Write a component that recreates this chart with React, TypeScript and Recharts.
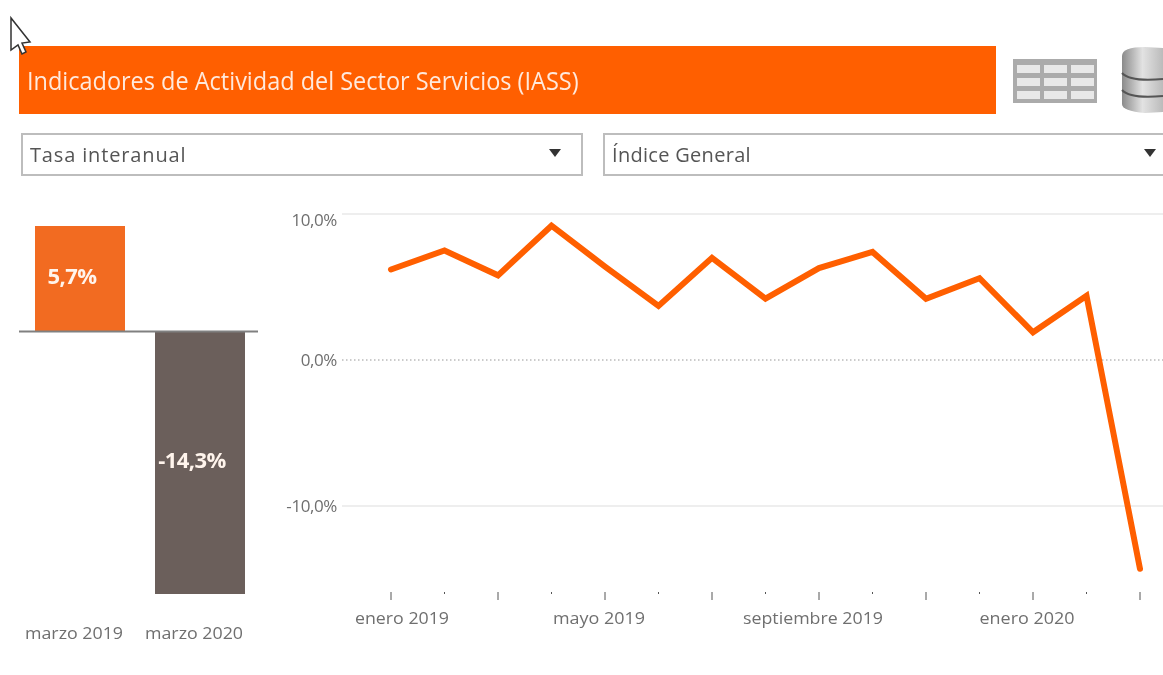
import React from "react";
import { BarChart, Bar, LineChart, Line, XAxis, YAxis, ReferenceLine, LabelList, Cell } from "recharts";

const barCategories = ["marzo 2019", "marzo 2020"];
const barValues = [5.7, -14.3];
const barColors = ["#F26B21", "#6B5F5B"];
const months = ["enero 2019","febrero 2019","marzo 2019","abril 2019","mayo 2019","junio 2019","julio 2019","agosto 2019","septiembre 2019","octubre 2019","noviembre 2019","diciembre 2019","enero 2020","febrero 2020","marzo 2020"];
const rates = [6.2, 7.5, 5.8, 9.2, 6.4, 3.7, 7.0, 4.2, 6.3, 7.4, 4.2, 5.6, 1.9, 4.4, -14.3];
const yTicks = [-10, 0, 10];
const title = "Indicadores de Actividad del Sector Servicios (IASS)";
const selectA = "Tasa interanual";
const selectB = "Índice General";

const barData = barCategories.map((name, i) => ({ name, value: barValues[i] }));
const lineData = months.map((month, i) => ({ month, rate: rates[i] }));
const FONT = "'Open Sans', sans-serif";
const fmt = (v: number) => v.toFixed(1).replace(".", ",") + "%";

const BarTick = ({ x, payload }: any) => (
  <text x={x - 6} y={634.5} textAnchor="middle" dominantBaseline="middle" fontFamily={FONT} fontSize={17} fill="#6F6F6F" textLength={98} lengthAdjust="spacingAndGlyphs">{payload.value}</text>
);
const YTick = ({ y, payload }: any) => (
  <text x={337} y={(payload.value === 10 ? y + 6 : y) + 1.5} textAnchor="end" dominantBaseline="middle" fontFamily={FONT} fontSize={17} fill="#6F6F6F" letterSpacing={-0.4}>{fmt(payload.value)}</text>
);
const XTick = ({ x, payload, index }: any) => {
  const major = index % 2 === 0;
  const labelled = index % 4 === 0;
  const dx = index === 0 ? 11 : -6;
  const widths: Record<number, number> = { 0: 94, 4: 92, 8: 140, 12: 95 };
  return (
    <g>
      <line x1={x} x2={x} y1={592} y2={major ? 600 : 594} stroke="#555" strokeWidth={1} />
      {labelled && (
        <text x={x + dx} y={619} textAnchor="middle" dominantBaseline="middle" fontFamily={FONT} fontSize={17} fill="#6F6F6F" textLength={widths[index]} lengthAdjust="spacingAndGlyphs">{payload.value}</text>
      )}
    </g>
  );
};

const BarLabel = ({ x, y, width, height, value }: any) => (
  <text x={x + width / 2 - 8} y={y + height / 2} textAnchor="middle" dominantBaseline="middle" fontFamily={FONT} fontWeight={700} fontSize={22} letterSpacing={-0.6} fill="#FFF4EC">{fmt(Number(value))}</text>
);

const BaseLine = ({ y1 }: any) => <line x1={19} x2={258} y1={y1 + 0.5} y2={y1 + 0.5} stroke="#808080" strokeWidth={2} />;

const Select = ({ left, width, text, spacing }: any) => (
  <div style={{ position: "absolute", left, top: 133, width, height: 43, boxSizing: "border-box", border: "2px solid #BDBDBD", background: "#fff", fontFamily: FONT, fontSize: 20, color: "#555", lineHeight: "40px", paddingLeft: 7, whiteSpace: "nowrap", letterSpacing: spacing }}>
    {text}
    <div style={{ position: "absolute", right: 20, top: 14, width: 0, height: 0, borderLeft: "6px solid transparent", borderRight: "6px solid transparent", borderTop: "8px solid #333" }} />
  </div>
);

const Icons = () => (
  <svg width={1163} height={675} style={{ position: "absolute", left: 0, top: 0, pointerEvents: "none" }}>
    <defs>
      <linearGradient id="db" x1="0" x2="1" y1="0" y2="0">
        <stop offset="0" stopColor="#8A8A8A" />
        <stop offset="0.5" stopColor="#E2E2E2" />
        <stop offset="1" stopColor="#BBB" />
      </linearGradient>
    </defs>
    <rect x={1013} y={59} width={84} height={44} fill="#ABABAB" />
    {[0, 1, 2].map((r) =>
      [0, 1, 2].map((c) => (
        <rect key={`${r}${c}`} x={1017 + c * 27} y={65 + r * 13} width={23} height={8} fill="#E8E8E8" />
      ))
    )}
    <path d="M1122 56 Q1122 47 1145 47 L1163 48 V112 L1145 113 Q1122 111 1122 104 Z" fill="url(#db)" />
    <path d="M1122 73 Q1130 82 1163 79 M1122 90 Q1130 99 1163 96" stroke="#555" strokeWidth={2} fill="none" />
    <path d="M11 18 L11 50 L18 45 L22 54 L26 52 L22 43 L30 42 Z" fill="#fff" stroke="#333" strokeWidth={1.5} />
  </svg>
);

export default function App() {
  return (
    <div style={{ position: "absolute", left: 0, top: 0, width: 1163, height: 675, overflow: "hidden", background: "#fff", filter: "blur(0.5px)" }}>
      <div style={{ position: "absolute", left: 19, top: 46, width: 977, height: 68, background: "#FF5F00", color: "#FFE9DC", fontFamily: FONT, fontSize: 26, lineHeight: "68px", paddingLeft: 8, boxSizing: "border-box", whiteSpace: "nowrap" }}>
        <span style={{ display: "inline-block", transform: "scaleX(0.903)", transformOrigin: "left center" }}>{title}</span>
      </div>
      <Select left={21} width={562} text={selectA} spacing={0.85} />
      <Select left={603} width={575} text={selectB} spacing={0.3} />
      <div style={{ position: "absolute", left: 0, top: 0 }}>
        <BarChart width={280} height={675} data={barData} margin={{ top: 226, right: 20, bottom: 41, left: 20 }} barSize={90}>
          <XAxis dataKey="name" axisLine={false} tickLine={false} tick={<BarTick />} interval={0} height={40} />
          <YAxis hide domain={[-14.3, 5.7]} />
          <Bar dataKey="value" isAnimationActive={false}>
            {barData.map((d, i) => <Cell key={d.name} fill={barColors[i]} />)}
            <LabelList dataKey="value" content={<BarLabel />} />
          </Bar>
          <ReferenceLine y={0} shape={<BaseLine />} />
        </BarChart>
      </div>
      <div style={{ position: "absolute", left: 0, top: 0 }}>
        <LineChart width={1163} height={675} data={lineData} margin={{ top: 214, right: 0, bottom: 45, left: 0 }}>
          <XAxis dataKey="month" axisLine={false} tickLine={false} tick={<XTick />} interval={0} height={40} padding={{ left: 49, right: 23 }} />
          <YAxis domain={[-15.75, 10]} ticks={yTicks} axisLine={false} tickLine={false} tick={<YTick />} width={342} allowDataOverflow />
          <ReferenceLine y={10} stroke="#EEEEEE" strokeWidth={2} />
          <ReferenceLine y={0} stroke="#BBBBBB" strokeWidth={1.5} strokeDasharray="1.5 2.5" />
          <ReferenceLine y={-10} stroke="#EEEEEE" strokeWidth={2} />
          <Line dataKey="rate" type="linear" stroke="#FF5F00" strokeWidth={6} strokeLinecap="round" dot={false} isAnimationActive={false} />
        </LineChart>
      </div>
      <Icons />
    </div>
  );
}
